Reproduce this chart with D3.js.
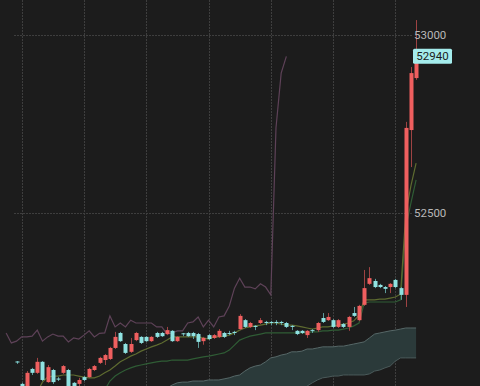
<html>
<head>
    <title>Ichimoku candles</title>
    <script src="https://d3js.org/d3.v7.min.js"></script>
</head>
<style>
    body { margin: 0; background: #1c1c1c; }
    .grid line { stroke: #3e3e3e; stroke-width: 1px; stroke-dasharray: 2,1; }
    .yaxis text { fill: #b8b8b8; font-family: Roboto, sans-serif; font-size: 11.5px; }
</style>
<body>
<script>
    // first bar index (bar 0 sits on the first vertical grid line)
    let firstBar = -3;

    // OHLC, bars -3 .. 76
    let opens = [51980, 51995, 52083, 52020, 52003, 52062, 52051, 52082, 52025, 52059, 52035, 52051,
        52059, 52023, 52020, 52039, 52039, 52059, 52079, 52087, 52090, 52121, 52163, 52132,
        52110, 52143, 52152, 52152, 52140, 52163, 52163, 52160, 52169, 52140, 52162, 52163,
        52163, 52160, 52140, 52157, 52149, 52152, 52163, 52163, 52166, 52174, 52199, 52180,
        52183, 52191, 52194, 52194, 52194, 52194, 52191, 52183, 52169, 52169, 52157, 52171,
        52171, 52205, 52199, 52199, 52180, 52188, 52180, 52219, 52199, 52242, 52301, 52309,
        52298, 52292, 52292, 52312, 52289, 52270, 52733, 52879];
    let closes = [51995, 51985, 52080, 51997, 52051, 52051, 52082, 52031, 52067, 52025, 52032, 52070,
        52008, 52008, 52031, 52031, 52062, 52070, 52093, 52101, 52121, 52152, 52140, 52107,
        52132, 52163, 52135, 52140, 52152, 52152, 52154, 52171, 52140, 52152, 52160, 52154,
        52154, 52138, 52149, 52146, 52157, 52169, 52152, 52162, 52163, 52211, 52180, 52191,
        52180, 52199, 52191, 52191, 52191, 52191, 52180, 52180, 52160, 52163, 52169, 52169,
        52191, 52194, 52208, 52180, 52199, 52180, 52208, 52211, 52239, 52289, 52317, 52292,
        52292, 52287, 52301, 52292, 52270, 52739, 52893, 52940];
    let highs = [52000, 52005, 52084, 52023, 52056, 52065, 52093, 52084, 52073, 52062, 52039, 52073,
        52062, 52025, 52037, 52042, 52065, 52073, 52096, 52104, 52124, 52166, 52166, 52135,
        52149, 52166, 52154, 52154, 52154, 52166, 52166, 52180, 52171, 52154, 52163, 52166,
        52166, 52163, 52152, 52160, 52160, 52174, 52166, 52169, 52169, 52216, 52202, 52194,
        52185, 52205, 52197, 52197, 52199, 52197, 52194, 52185, 52171, 52171, 52171, 52174,
        52194, 52219, 52219, 52202, 52202, 52191, 52211, 52236, 52242, 52340, 52348, 52315,
        52301, 52295, 52303, 52315, 52292, 52756, 52910, 53042];
    let lows = [51970, 51975, 52076, 51989, 51997, 52045, 52048, 52028, 52023, 52020, 52028, 52048,
        52003, 52003, 52011, 52028, 52037, 52056, 52076, 52073, 52087, 52118, 52138, 52104,
        52107, 52140, 52132, 52138, 52138, 52149, 52152, 52157, 52138, 52138, 52154, 52152,
        52146, 52121, 52130, 52143, 52146, 52149, 52149, 52157, 52157, 52171, 52177, 52177,
        52171, 52188, 52185, 52185, 52185, 52185, 52177, 52171, 52157, 52160, 52149, 52163,
        52166, 52191, 52197, 52177, 52177, 52177, 52169, 52208, 52197, 52239, 52298, 52289,
        52289, 52275, 52275, 52289, 52256, 52236, 52629, 52874];

    // conversion line, bars 3 .. 76
    let tenkanFrom = 3;
    let tenkan = [51997, 52025, 52039, 52042, 52042, 52045, 52045, 52045, 52042, 52039, 52037, 52037,
        52042, 52051, 52059, 52070, 52082, 52090, 52098, 52104, 52112, 52118, 52124, 52129,
        52135, 52143, 52152, 52152, 52152, 52152, 52152, 52152, 52149, 52146, 52152, 52152,
        52154, 52157, 52163, 52171, 52177, 52180, 52183, 52185, 52188, 52191, 52191, 52188,
        52185, 52185, 52183, 52180, 52177, 52174, 52177, 52180, 52180, 52183, 52185, 52188,
        52191, 52197, 52213, 52256, 52256, 52256, 52258, 52258, 52261, 52264, 52272, 52497,
        52576, 52640];

    // base line, bars 16 .. 76
    let kijunFrom = 16;
    let kijun = [52003, 52028, 52042, 52051, 52059, 52065, 52070, 52073, 52076, 52079, 52082, 52084,
        52084, 52087, 52087, 52087, 52087, 52090, 52093, 52096, 52098, 52101, 52104, 52107,
        52115, 52129, 52143, 52149, 52154, 52157, 52160, 52163, 52163, 52163, 52163, 52163,
        52163, 52163, 52163, 52163, 52166, 52166, 52169, 52169, 52171, 52171, 52174, 52177,
        52183, 52191, 52247, 52250, 52250, 52250, 52250, 52250, 52250, 52256, 52458, 52528,
        52593];

    // cloud upper edge, bars 28 .. 76
    let cloudFrom = 28;
    let cloudTop = [52008, 52017, 52023, 52025, 52025, 52028, 52028, 52028, 52031, 52031, 52031, 52034,
        52037, 52042, 52045, 52056, 52065, 52070, 52073, 52082, 52093, 52096, 52101, 52104,
        52110, 52110, 52112, 52118, 52118, 52121, 52124, 52124, 52124, 52126, 52126, 52129,
        52132, 52135, 52138, 52149, 52160, 52163, 52166, 52169, 52171, 52174, 52177, 52177,
        52177];
    // cloud lower edge, bars 55 .. 76 (below the view before that)
    let cloudBottomFrom = 55;
    let cloudBottom = [52014, 52023, 52031, 52037, 52039, 52042, 52042, 52045, 52045, 52045, 52045, 52045,
        52048, 52056, 52059, 52065, 52070, 52084, 52093, 52093, 52093, 52093];

    let laggingShift = 25;
    let gridBars = [0, 12, 24, 36, 48, 60, 72];
    let priceTicks = [52000, 52500, 53000];

    let svgwidth = 480, svgheight = 386;
    let svg = d3.select("body").append("svg")
        .attr("width", svgwidth)
        .attr("height", svgheight)
        .style("display", "block");

    svg.append("rect").attr("width", svgwidth).attr("height", svgheight).attr("fill", "#1c1c1c");

    let x = d3.scaleLinear().domain([0, 76]).range([21.7, 416.1]);
    let y = d3.scaleLinear().domain([52500, 53000]).range([213, 35]);

    let bars = opens.map(function (o, i) {
        return { k: i + firstBar, o: o, c: closes[i], h: highs[i], l: lows[i] };
    });

    // grid
    let grid = svg.append("g").attr("class", "grid");
    grid.selectAll(".v").data(gridBars).enter().append("line")
        .attr("x1", function (d) { return Math.round(x(d)) + 0.5; })
        .attr("x2", function (d) { return Math.round(x(d)) + 0.5; })
        .attr("y1", 0).attr("y2", svgheight);
    grid.selectAll(".h").data(priceTicks).enter().append("line")
        .attr("x1", 14).attr("x2", 412)
        .attr("y1", function (d) { return Math.round(y(d)) + 0.5; })
        .attr("y2", function (d) { return Math.round(y(d)) + 0.5; });

    // cloud
    let cloud = cloudTop.map(function (v, i) {
        let k = i + cloudFrom;
        let j = k - cloudBottomFrom;
        return { k: k, a: v, b: j >= 0 ? cloudBottom[j] : null };
    });
    let lowY = svgheight + 12;
    svg.append("path")
        .datum(cloud)
        .attr("fill", "#2b3a3a")
        .attr("d", d3.area()
            .x(function (d) { return x(d.k); })
            .y0(function (d) { return d.b == null ? lowY : y(d.b); })
            .y1(function (d) { return y(d.a); }));
    svg.append("path")
        .datum(cloud)
        .attr("fill", "none").attr("stroke", "#566767").attr("stroke-width", 1)
        .attr("d", d3.line().x(function (d) { return x(d.k); }).y(function (d) { return y(d.a); }));
    svg.append("path")
        .datum(cloud)
        .attr("fill", "none").attr("stroke", "#4a5a5a").attr("stroke-width", 1)
        .attr("d", d3.line().x(function (d) { return x(d.k); })
            .y(function (d) { return d.b == null ? lowY : y(d.b); }));

    // lagging span: closes shifted back
    let lagging = bars.map(function (d) { return { k: d.k - laggingShift, v: d.c }; })
        .filter(function (d) { return d.k >= firstBar; });
    let valLine = d3.line().x(function (d) { return x(d.k); }).y(function (d) { return y(d.v); });
    svg.append("path").datum(lagging)
        .attr("fill", "none").attr("stroke", "#5e4258").attr("stroke-width", 1.2)
        .attr("d", valLine);

    // base and conversion lines
    svg.append("path")
        .datum(kijun.map(function (v, i) { return { k: i + kijunFrom, v: v }; }))
        .attr("fill", "none").attr("stroke", "#2f5c35").attr("stroke-width", 1.2)
        .attr("d", valLine);
    svg.append("path")
        .datum(tenkan.map(function (v, i) { return { k: i + tenkanFrom, v: v }; }))
        .attr("fill", "none").attr("stroke", "#5e6b30").attr("stroke-width", 1.2)
        .attr("d", valLine);

    // candles
    let upCol = "#ef5f5f", downCol = "#8fe2e1";
    let candles = svg.append("g");
    candles.selectAll(".wick").data(bars).enter().append("line")
        .attr("x1", function (d) { return Math.round(x(d.k)) + 0.5; })
        .attr("x2", function (d) { return Math.round(x(d.k)) + 0.5; })
        .attr("y1", function (d) { return y(d.h); })
        .attr("y2", function (d) { return y(d.l); })
        .attr("stroke", function (d) { return d.c >= d.o ? "#9e4343" : "#5d9c9c"; })
        .attr("stroke-width", 1);
    candles.selectAll(".body").data(bars).enter().append("rect")
        .attr("x", function (d) { return Math.round(x(d.k)) - 1.5; })
        .attr("width", 4)
        .attr("y", function (d) { return y(Math.max(d.o, d.c)); })
        .attr("height", function (d) { return Math.max(1, Math.abs(y(d.o) - y(d.c))); })
        .attr("fill", function (d) { return d.c >= d.o ? upCol : downCol; });

    // price labels
    let yAxis = svg.append("g")
        .attr("class", "yaxis")
        .attr("transform", "translate(413,0)")
        .call(d3.axisRight(y).tickValues(priceTicks).tickSize(0).tickPadding(1)
            .tickFormat(d3.format("d")));
    yAxis.select(".domain").remove();

    let last = bars[bars.length - 1];
    let tag = svg.append("g").attr("transform", "translate(413," + y(last.c) + ")");
    tag.append("rect")
        .attr("x", 0).attr("y", -7.5).attr("width", 39).attr("height", 15)
        .attr("rx", 1.5)
        .attr("fill", "#a4ecec");
    tag.append("text")
        .attr("x", 19.5).attr("y", 0).attr("dy", "0.35em")
        .style("text-anchor", "middle")
        .attr("font-family", "Roboto, sans-serif")
        .attr("font-size", 11.5)
        .attr("fill", "#1c1c1c")
        .text(d3.format("d")(last.c));
</script>
</body>
</html>
